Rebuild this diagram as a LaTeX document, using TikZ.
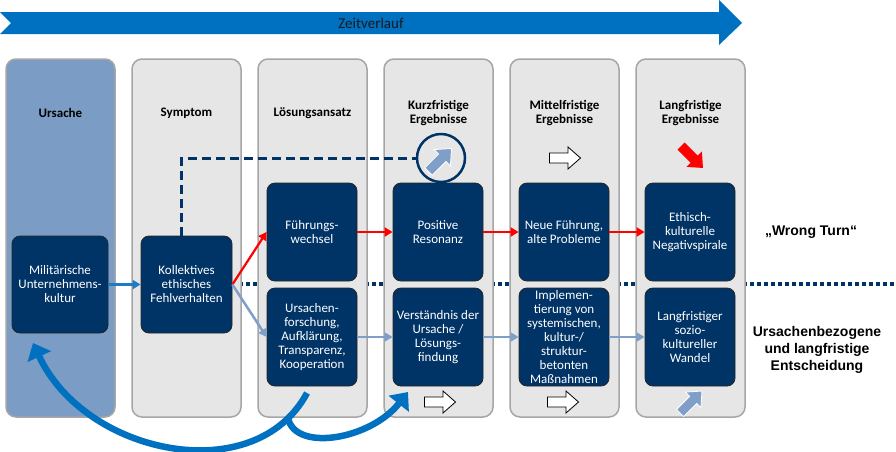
\documentclass[tikz,border=0pt]{standalone}
\usepackage{fontspec}
\setmainfont{Carlito}
\newfontfamily\arialfont{Liberation Sans}
\usetikzlibrary{arrows.meta}
\definecolor{navy}{HTML}{003366}
\definecolor{bannerblue}{HTML}{0070C0}
\definecolor{colgrey}{HTML}{E6E6E6}
\definecolor{colborder}{HTML}{A6A6A6}
\definecolor{ursblue}{HTML}{7B9CC4}
\definecolor{steel}{HTML}{7F9FC9}
\definecolor{midblue}{HTML}{1F7CC4}
\definecolor{redarrow}{HTML}{FF0000}
\tikzset{
  column/.style={draw=colborder, fill=colgrey, line width=1.5pt, rounded corners=10pt,
    minimum width=109pt, minimum height=358pt, inner sep=0pt},
  header/.style={align=center, font=\bfseries\fontsize{13}{14}\selectfont, inner sep=0pt},
  dbox/.style={draw=black!85, fill=navy, line width=0.8pt, rounded corners=8pt, text=white,
    align=center, minimum width=90pt, minimum height=98pt, inner sep=1pt,
    font=\fontsize{13}{14}\selectfont},
  redconn/.style={redarrow, line width=2.2pt, -{Triangle[length=8pt,width=9pt]}},
  steelconn/.style={steel, line width=2.5pt, -{Triangle[length=8pt,width=9pt]}},
  blueconn/.style={midblue, line width=2.5pt, -{Triangle[length=8pt,width=9pt]}},
  bigcurve/.style={bannerblue, line width=6.5pt, -{Triangle[length=15pt,width=25pt]}},
  sidelabel/.style={align=center, font=\arialfont\bfseries\fontsize{14}{17}\selectfont, inner sep=0pt},
  barrow/.pic={\path[pic actions] (-15.5,-5) -- (3,-5) -- (3,-11) -- (15.5,0) -- (3,11) -- (3,5) -- (-15.5,5) -- cycle;}
}
\begin{document}
\begin{tikzpicture}[x=1pt,y=1pt]
\useasboundingbox (0,0) rectangle (896,-451);

% banner
\fill[bannerblue] (0,-12) -- (719,-12) -- (719,0) -- (742,-23) -- (719,-45) -- (719,-34) -- (0,-34) -- (11,-23) -- cycle;
\node[font=\fontsize{15}{18}\selectfont, text=black!90, inner sep=0pt] (zeit) at (371,-23) {Zeitverlauf};

% dotted separator (behind columns)
\coordinate (dl0) at (232,-284);
\coordinate (dl1) at (896,-284);
\draw[navy, line width=3.3pt, dash pattern=on 3.5pt off 3.5pt] (dl0) -- (dl1);

% columns
\node[column, fill=ursblue] (c1) at (60.5,-238) {};
\node[column] (c2) at (186.5,-238) {};
\node[column] (c3) at (312.5,-238) {};
\node[column] (c4) at (438.5,-238) {};
\node[column] (c5) at (564.5,-238) {};
\node[column] (c6) at (690.5,-238) {};

% headers
\node[header] (h1) at (60.5,-113) {Ursache};
\node[header] (h2) at (186.5,-113) {Symptom};
\node[header] (h3) at (312.5,-113) {Lösungsansatz};
\node[header] (h4) at (438.5,-113) {Kurzfristige\\Ergebnisse};
\node[header] (h5) at (564.5,-113) {Mittelfristige\\Ergebnisse};
\node[header] (h6) at (690.5,-113) {Langfristige\\Ergebnisse};

% boxes
\node[dbox, minimum width=96pt, minimum height=97pt] (mu) at (60,-284.5) {Militärische\\Unternehmens-\\kultur};
\node[dbox, minimum width=91pt, minimum height=97pt] (ke) at (186.5,-284.5) {Kollektives\\ethisches\\Fehlverhalten};
\node[dbox] (fw) at (312,-232) {Führungs-\\wechsel};
\node[dbox] (pr) at (438,-232) {Positive\\Resonanz};
\node[dbox] (nf) at (564,-232) {Neue Führung,\\alte Probleme};
\node[dbox] (es) at (690,-232) {Ethisch-\\kulturelle\\Negativspirale};
\node[dbox] (uf) at (312,-337) {Ursachen-\\forschung,\\Aufklärung,\\Transparenz,\\Kooperation};
\node[dbox] (vu) at (438,-337) {Verständnis der\\Ursache /\\Lösungs-\\findung};
\node[dbox] (im) at (564,-337) {Implemen-\\tierung von\\systemischen,\\kultur-/\\struktur-\\betonten\\Maßnahmen};
\node[dbox] (lw) at (690,-337) {Langfristiger\\sozio-\\kultureller\\Wandel};

% connectors
\draw[blueconn] (mu.east) -- (ke.west);
\draw[redconn] (ke.east) -- (fw.west);
\draw[redconn] (fw.east) -- (pr.west);
\draw[redconn] (pr.east) -- (nf.west);
\draw[redconn] (nf.east) -- (es.west);
\draw[steelconn] (ke.east) -- (uf.west);
\draw[steelconn] (uf.east) -- (vu.west);
\draw[steelconn] (vu.east) -- (im.west);
\draw[steelconn] (im.east) -- (lw.west);

% dashed feedback to circle
\node[circle, draw=navy, line width=2.5pt, minimum size=48pt, inner sep=0pt] (circ) at (441,-158) {};
\draw[navy, line width=3pt, dash pattern=on 9pt off 5pt] ([xshift=-5pt]ke.north) |- (circ.west);

% trend arrows
\pic[fill=steel, draw=white, line width=0.8pt, rotate=45, scale=1.05] at (440,-160) {barrow};
\pic[fill=white, draw=black, line width=0.8pt] at (565,-158) {barrow};
\pic[fill=redarrow, rotate=-45] at (692,-157) {barrow};
\pic[fill=white, draw=black, line width=0.8pt] at (440,-402) {barrow};
\pic[fill=white, draw=black, line width=0.8pt] at (563,-402) {barrow};
\pic[fill=steel, draw=white, line width=0.8pt, rotate=45] at (691,-402) {barrow};

% big curved arrows
\coordinate (cs) at (307,-393);
\coordinate (ct) at (33,-343);
\coordinate (bs) at (288,-418);
\coordinate (bt) at (408,-392);
\draw[bigcurve] (cs) .. controls (255,-490) and (85,-455) .. (ct);
\draw[bigcurve] (bs) .. controls (295,-452) and (370,-440) .. (bt);

% side labels
\node[sidelabel] (wt) at (811,-232) {„Wrong Turn“};
\node[sidelabel] (ul) at (817,-350) {Ursachenbezogene\\und langfristige\\Entscheidung};
\end{tikzpicture}
\end{document}
